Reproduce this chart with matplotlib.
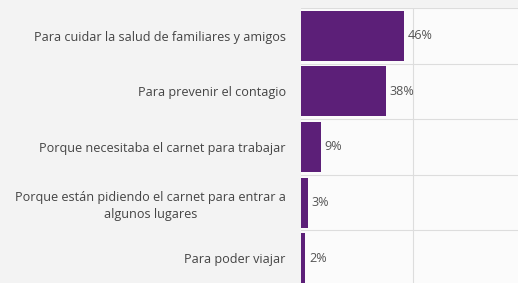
import matplotlib.pyplot as plt

categories = [
    "Para cuidar la salud de familiares y amigos",
    "Para prevenir el contagio",
    "Porque necesitaba el carnet para trabajar",
    "Porque están pidiendo el carnet para entrar a\nalgunos lugares",
    "Para poder viajar",
]
values = [46, 38, 9, 3, 2]
value_labels = ["46%", "38%", "9%", "3%", "2%"]

plt.rcParams['font.family'] = ['Open Sans', 'DejaVu Sans']

fig = plt.figure(figsize=(5.18, 2.83), dpi=100, facecolor='#f3f3f3')
ax = fig.add_axes([301/518, -3/283, 1 - 301/518, 278/283])
ax.set_facecolor('#fbfbfb')

y = list(range(len(categories)))
ax.barh(y, values, height=0.9, color='#5c1f78', zorder=3)
ax.set_ylim(len(categories) - 0.5, -0.5)
ax.set_xlim(0, 97)

for yi, v, lab in zip(y, values, value_labels):
    ax.text(v + 1.6, yi, lab, va='center', ha='left', fontsize=9.1, color='#555555', zorder=4)

ax.set_yticks(y)
ax.set_yticklabels(categories, fontsize=9.1, color='#444444', linespacing=1.4)
for lbl in ax.get_yticklabels():
    lbl.set_multialignment('center')
ax.tick_params(axis='y', length=0, pad=11)
ax.tick_params(axis='x', length=0, labelbottom=False)

ax.set_yticks([i - 0.5 for i in range(len(categories) + 1)], minor=True)
ax.set_xticks([50])
ax.grid(True, which='minor', axis='y', color='#dddddd', linewidth=0.8, zorder=0)
ax.grid(True, which='major', axis='x', color='#dddddd', linewidth=0.8, zorder=0)
ax.tick_params(which='minor', length=0)
for s in ax.spines.values():
    s.set_visible(False)

fig.savefig('out.png', dpi=100, facecolor=fig.get_facecolor())
